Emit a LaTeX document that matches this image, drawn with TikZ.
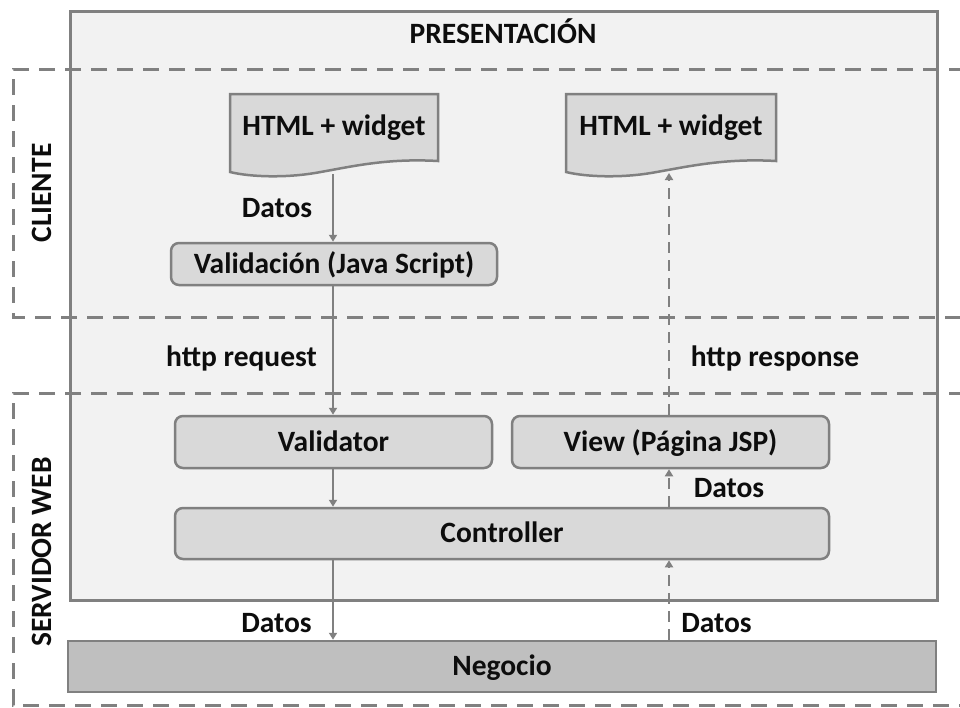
\documentclass[tikz,border=0pt]{standalone}
\usepackage{fontspec}
\setmainfont{Carlito}
\usetikzlibrary{arrows.meta,calc}
\definecolor{lgray}{RGB}{128,128,128}
\definecolor{presf}{RGB}{242,242,242}
\definecolor{boxf}{RGB}{217,217,217}
\definecolor{negf}{RGB}{191,191,191}
\definecolor{txt}{RGB}{13,13,13}
\begin{document}
\begin{tikzpicture}[x=1pt,y=-1pt,
  lbl/.style={font=\fontsize{29.5}{34}\selectfont\bfseries, text=txt, inner sep=0pt, anchor=base},
  box/.style={draw=lgray, fill=boxf, line width=2.5pt, rounded corners=8pt, inner sep=0pt,
    font=\fontsize{29.5}{34}\selectfont\bfseries, text=txt, text height=18.5pt, text depth=0pt},
  flat/.style={box, rounded corners=0pt, fill=negf},
  docshape/.style={draw=lgray, fill=boxf, line width=2.5pt},
  doctext/.style={inner sep=0pt, font=\fontsize{29.5}{34}\selectfont\bfseries, text=txt, text height=18.5pt, text depth=0pt},
  side/.style={inner sep=0pt, rotate=90, font=\fontsize{29.5}{34}\selectfont\bfseries, text=txt, text height=18.5pt, text depth=0pt},
  arr/.style={draw=lgray, line width=2.5pt, -{Triangle[width=8pt,length=7pt]}},
  darr/.style={arr, dash pattern=on 11pt off 7pt},
  zone/.style={draw=lgray, line width=3pt, dash pattern=on 16pt off 10pt}
]
\useasboundingbox (0,0) rectangle (960,707);

% Presentacion box
\draw[draw=lgray, fill=presf, line width=3pt] (70,11) rectangle (937,600);
\node[lbl] (pres) at (503,43) {PRESENTACIÓN};

% zones
\draw[zone] (965,69) -- (13,69) -- (13,317) -- (965,317);
\draw[zone] (965,393) -- (13,393) -- (13,705) -- (965,705);
\node[side] (cli) at (42.5,193) {CLIENTE};
\node[side] (srv) at (42.5,552) {SERVIDOR WEB};

% documents
\draw[docshape] (230,94) -- (438,94) -- (438,161)
  .. controls (385,158) and (350,167) .. (315,173)
  .. controls (285,178) and (250,177) .. (230,172) -- cycle;
\node[doctext] (doc1) at (334,126) {HTML + widget};
\coordinate (doc1b) at (333,174);

\begin{scope}[xshift=336pt]
\draw[docshape] (230,94) -- (440,94) -- (440,161)
  .. controls (387,158) and (350,167) .. (315,173)
  .. controls (285,178) and (250,177) .. (230,172) -- cycle;
\end{scope}
\node[doctext] (doc2) at (671,126) {HTML + widget};
\coordinate (doc2b) at (669,173);

% boxes
\node[box, minimum width=326pt, minimum height=42pt] (val) at (334,264) {Validación (Java Script)};
\node[box, minimum width=317pt, minimum height=52pt] (vtor) at (333.5,442) {Validator};
\node[box, minimum width=317pt, minimum height=52pt] (view) at (670.5,442) {View (Página JSP)};
\node[box, minimum width=654pt, minimum height=51pt] (ctrl) at (502,533.5) {Controller};
\node[flat, minimum width=868pt, minimum height=51pt] (neg) at (502,666.5) {Negocio};

% arrows left (requests)
\draw[arr] (doc1b) -- (doc1b |- val.north);
\draw[arr] (doc1b |- val.south) -- (doc1b |- vtor.north);
\draw[arr] (doc1b |- vtor.south) -- (doc1b |- ctrl.north);
\draw[arr] (doc1b |- ctrl.south) -- (doc1b |- neg.north);

% arrows right (responses)
\draw[darr] (doc2b |- neg.north) -- (doc2b |- ctrl.south);
\draw[darr] (doc2b |- ctrl.north) -- (doc2b |- view.south);
\draw[darr] (doc2b |- view.north) -- (doc2b);

% labels
\node[lbl] (l1) at (277,217) {Datos};
\node[lbl] (l2) at (241.5,366) {http request};
\node[lbl] (l3) at (775,366) {http response};
\node[lbl] (l4) at (729,497) {Datos};
\node[lbl] (l5) at (276.5,632) {Datos};
\node[lbl] (l6) at (716.5,632) {Datos};
\end{tikzpicture}
\end{document}
